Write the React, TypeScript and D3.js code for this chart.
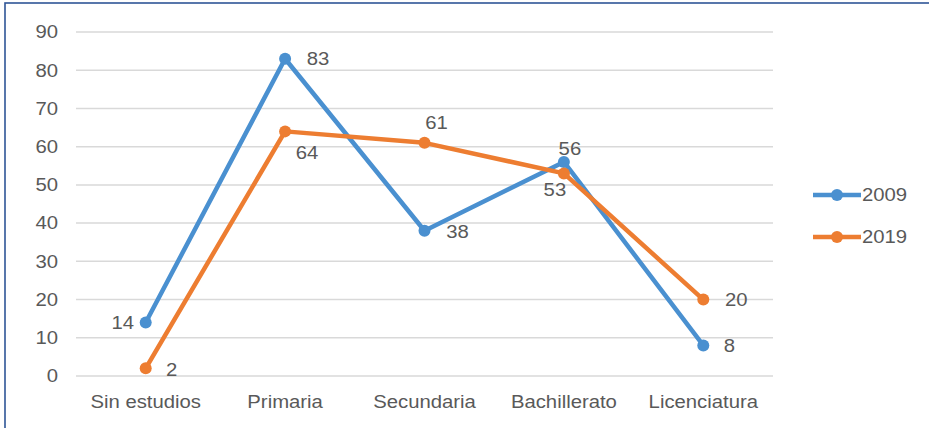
import * as d3 from "d3";
import * as React from "react";

// chart data
const categories = ["Sin estudios", "Primaria", "Secundaria", "Bachillerato", "Licenciatura"];
const series2009 = [14, 83, 38, 56, 8];
const series2019 = [2, 64, 61, 53, 20];
const yTicks = [0, 10, 20, 30, 40, 50, 60, 70, 80, 90];

// label placement (offset of label centre from point)
const labelOffsets2009: [number, number][] = [[-23, 0], [33, 0], [33, 1], [6, -13], [26, 0]];
const labelOffsets2019: [number, number][] = [[26, 1], [22, 21], [12, -20], [-9, 16], [33, 0]];

const W = 929;
const H = 428;
const FONT = "'Liberation Sans', Arial, sans-serif";
const TEXT_COLOR = "#595959";
const STRETCH = 1.16;

type TProps = {
  x: number;
  y: number;
  anchor?: "start" | "middle" | "end";
  color?: string;
  children: React.ReactNode;
};

const T: React.FC<TProps> = ({ x, y, anchor = "middle", color = TEXT_COLOR, children }) => (
  <text
    transform={`translate(${x},${y}) scale(${STRETCH},1)`}
    textAnchor={anchor}
    dy="0.36em"
    fontFamily={FONT}
    fontSize={17.5}
    fill={color}
  >
    {children}
  </text>
);

const App: React.FC = () => {
  const x = d3.scaleBand<string>().domain(categories).range([76, 773]);
  const y = d3.scaleLinear().domain([0, 90]).range([376, 32]);
  const cx = (c: string) => (x(c) ?? 0) + x.bandwidth() / 2;

  const line = d3
    .line<number>()
    .x((_, i) => cx(categories[i]))
    .y((d) => y(d));

  const series = [
    { name: "2009", values: series2009, color: "#4a90d0", offsets: labelOffsets2009 },
    { name: "2019", values: series2019, color: "#ed7d31", offsets: labelOffsets2019 },
  ];

  return (
    <div style={{ position: "fixed", left: 0, top: 0 }}>
      <svg width={W} height={H} style={{ display: "block", background: "#fff" }}>
        <rect x={5} y={3} width={W + 20} height={H + 20} fill="#fff" stroke="#2f5597" strokeWidth={1.6} />

        {/* gridlines */}
        {yTicks.map((t) => (
          <line key={t} x1={76} x2={773} y1={y(t)} y2={y(t)} stroke="#d9d9d9" strokeWidth={1.5} />
        ))}

        {/* y axis labels */}
        {yTicks.map((t) => (
          <T key={t} x={58} y={y(t)} anchor="end">
            {t}
          </T>
        ))}

        {/* x axis labels */}
        {categories.map((c) => (
          <T key={c} x={cx(c)} y={402}>
            {c}
          </T>
        ))}

        {/* series */}
        {series.map((s) => (
          <g key={s.name}>
            <path d={line(s.values) ?? ""} fill="none" stroke={s.color} strokeWidth={4.5} strokeLinejoin="round" />
            {s.values.map((v, i) => (
              <circle key={i} cx={cx(categories[i])} cy={y(v)} r={6} fill={s.color} />
            ))}
          </g>
        ))}

        {/* data labels */}
        {series.map((s) =>
          s.values.map((v, i) => (
            <T key={s.name + i} x={cx(categories[i]) + s.offsets[i][0]} y={y(v) + s.offsets[i][1]}>
              {v}
            </T>
          ))
        )}

        {/* legend */}
        {series.map((s, i) => {
          const ly = 195 + i * 42;
          return (
            <g key={s.name}>
              <line x1={813} x2={861} y1={ly} y2={ly} stroke={s.color} strokeWidth={4.5} />
              <circle cx={837} cy={ly} r={6} fill={s.color} />
              <T x={862} y={ly} anchor="start">
                {s.name}
              </T>
            </g>
          );
        })}
      </svg>
    </div>
  );
};

export default App;
